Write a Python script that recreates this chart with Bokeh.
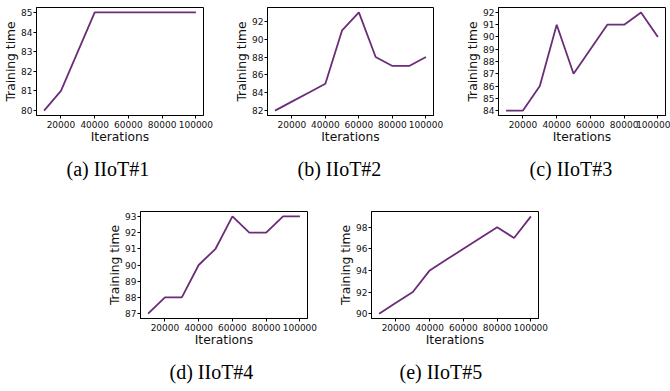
from bokeh.plotting import figure
from bokeh.layouts import column, row
from bokeh.models import Range1d, FixedTicker
from bokeh.embed import file_html
from bokeh.resources import INLINE

# ---- data ----
iterations = [10000, 20000, 30000, 40000, 50000, 60000, 70000, 80000, 90000, 100000]
iiot1 = [80, 81, 83, 85, 85, 85, 85, 85, 85, 85]
iiot2 = [82, 83, 84, 85, 91, 93, 88, 87, 87, 88]
iiot3 = [84, 84, 86, 91, 87, 89, 91, 91, 92, 90]
iiot4 = [87, 88, 88, 90, 91, 93, 92, 92, 93, 93]
iiot5 = [90, 91, 92, 94, 95, 96, 97, 98, 97, 99]

x_ticks = [20000, 40000, 60000, 80000, 100000]
x_tick_labels = ["20000", "40000", "60000", "80000", "100000"]
y_ticks_1 = [80, 81, 82, 83, 84, 85]
y_ticks_2 = [82, 84, 86, 88, 90, 92]
y_ticks_3 = [84, 85, 86, 87, 88, 89, 90, 91, 92]
y_ticks_4 = [87, 88, 89, 90, 91, 92, 93]
y_ticks_5 = [90, 92, 94, 96, 98]

captions = ["(a) IIoT#1", "(b) IIoT#2", "(c) IIoT#3", "(d) IIoT#4", "(e) IIoT#5"]
x_label = "Iterations"
y_label = "Training time"

LINE_COLOR = "#6b2c78"
SANS = "DejaVu Sans"
SERIF = "Liberation Serif"


def padded(vals, frac=0.05):
    lo, hi = min(vals), max(vals)
    pad = (hi - lo) * frac
    return lo - pad, hi + pad


def panel(yvals, yticks, caption, width, height, bl, br, bt, bb, cap_offset, cap_standoff):
    xlo, xhi = padded(iterations)
    ylo, yhi = padded(yvals)
    p = figure(width=width, height=height, output_backend="svg",
               toolbar_location=None, tools="",
               x_range=Range1d(xlo, xhi), y_range=Range1d(ylo, yhi),
               min_border_left=bl, min_border_right=br,
               min_border_top=bt, min_border_bottom=bb,
               title=caption, title_location="below")
    p.line(iterations, yvals, line_color=LINE_COLOR, line_width=1.8)
    p.grid.visible = False
    p.background_fill_color = "white"
    p.border_fill_color = "white"
    p.outline_line_color = "black"
    p.outline_line_width = 1
    p.outline_line_alpha = 1

    p.xaxis.ticker = FixedTicker(ticks=x_ticks)
    p.xaxis.major_label_overrides = {t: l for t, l in zip(x_ticks, x_tick_labels)}
    p.yaxis.ticker = FixedTicker(ticks=yticks)
    for ax in (p.xaxis, p.yaxis):
        ax.minor_tick_line_color = None
        ax.major_tick_in = 0
        ax.major_tick_out = 3
        ax.major_tick_line_color = "black"
        ax.axis_line_color = "black"
        ax.major_label_text_font = SANS
        ax.major_label_text_font_size = "9px"
        ax.major_label_text_color = "#111111"
        ax.axis_label_text_font = SANS
        ax.axis_label_text_font_size = "12.3px"
        ax.axis_label_text_font_style = "normal"
        ax.axis_label_text_color = "#111111"
    p.xaxis.axis_label = x_label
    p.yaxis.axis_label = y_label
    p.xaxis.major_label_standoff = 2
    p.xaxis.axis_label_standoff = -1
    p.yaxis.major_label_standoff = 1
    p.yaxis.axis_label_standoff = 0

    p.title.align = "left"
    p.title.offset = cap_offset
    p.title.standoff = cap_standoff
    p.title.text_font = SERIF
    p.title.text_font_size = "20px"
    p.title.text_font_style = "normal"
    p.title.text_color = "black"
    return p


H1 = 200
H2 = 191
pa = panel(iiot1, y_ticks_1, captions[0], 227, H1, 36, 24, 7, H1 - 115, 30, 18)
pb = panel(iiot2, y_ticks_2, captions[1], 230, H1, 40, 24, 7, H1 - 115, 30, 18)
pc = panel(iiot3, y_ticks_3, captions[2], 213, H1, 41, 5, 7, H1 - 115, 31, 18)
pd = panel(iiot4, y_ticks_4, captions[3], 331, H2, 140, 24, 11, H2 - 11 - 108, 29, 18)
pe = panel(iiot5, y_ticks_5, captions[4], 227, H2, 40, 20, 11, H2 - 11 - 108, 28, 18)

layout = column(row(pa, pb, pc), row(pd, pe))

open("out.html", "w").write(file_html(layout, INLINE))
